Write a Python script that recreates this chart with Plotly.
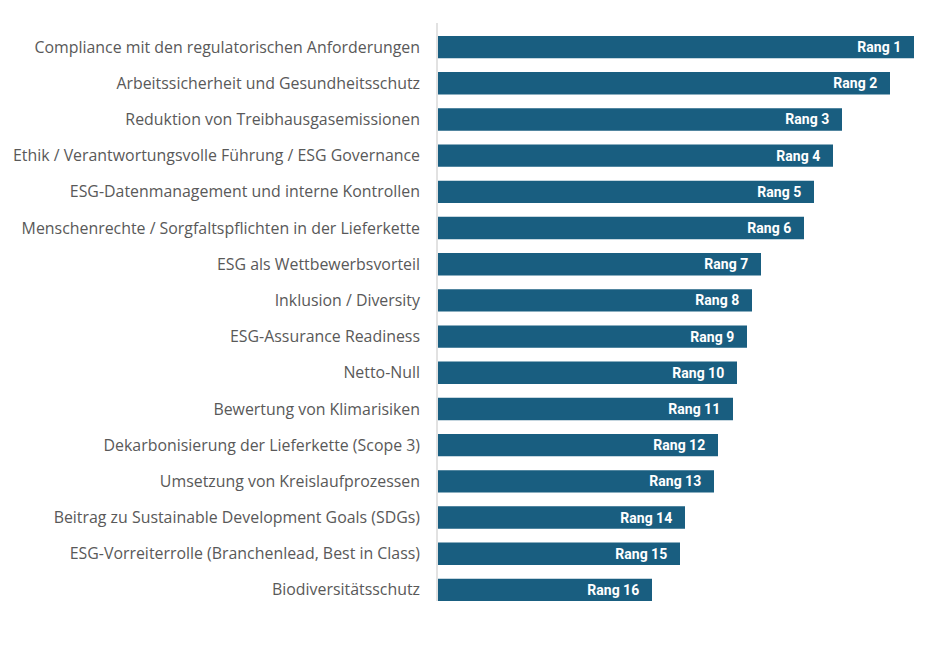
import plotly.graph_objects as go

themen = [
    'Compliance mit den regulatorischen Anforderungen',
    'Arbeitssicherheit und Gesundheitsschutz',
    'Reduktion von Treibhausgasemissionen',
    'Ethik / Verantwortungsvolle Führung / ESG Governance',
    'ESG-Datenmanagement und interne Kontrollen',
    'Menschenrechte / Sorgfaltspflichten in der Lieferkette',
    'ESG als Wettbewerbsvorteil',
    'Inklusion / Diversity',
    'ESG-Assurance Readiness',
    'Netto-Null',
    'Bewertung von Klimarisiken',
    'Dekarbonisierung der Lieferkette (Scope 3)',
    'Umsetzung von Kreislaufprozessen',
    'Beitrag zu Sustainable Development Goals (SDGs)',
    'ESG-Vorreiterrolle (Branchenlead, Best in Class)',
    'Biodiversitätsschutz',
]
werte = [95.2, 90.4, 80.8, 79.0, 75.2, 73.2, 64.6, 62.8,
         61.8, 59.8, 59.0, 56.0, 55.2, 49.4, 48.4, 42.8]
raenge = ['Rang %d' % i for i in range(1, 17)]

fig = go.Figure(go.Bar(
    x=werte, y=themen, orientation='h',
    marker=dict(color='#195e80', line=dict(width=0)),
    text=[r + '\u00a0\u00a0\u2009' for r in raenge],
    textposition='inside', insidetextanchor='end',
    textfont=dict(family='Roboto', size=14, color='white', weight='bold'),
    constraintext='none', cliponaxis=False,
))

# page has an 8px body margin, so the figure is shifted by 8px
fig.update_layout(
    width=943, height=642,
    margin=dict(l=430, r=13, t=21, b=42),
    paper_bgcolor='white', plot_bgcolor='white',
    bargap=0.38, showlegend=False,
    xaxis=dict(range=[0, 100], visible=False, fixedrange=True),
    yaxis=dict(autorange='reversed', showgrid=False, showline=False,
               ticks='', ticklabelstandoff=17, automargin=False,
               tickfont=dict(family='Open Sans', size=15.9, color='#595959')),
    shapes=[dict(type='line', xref='paper', yref='paper',
                 x0=-0.002, x1=-0.002, y0=0.012, y1=1.0104,
                 line=dict(color='#d9d9d9', width=1.5))],
)

fig.write_html('out.html')
